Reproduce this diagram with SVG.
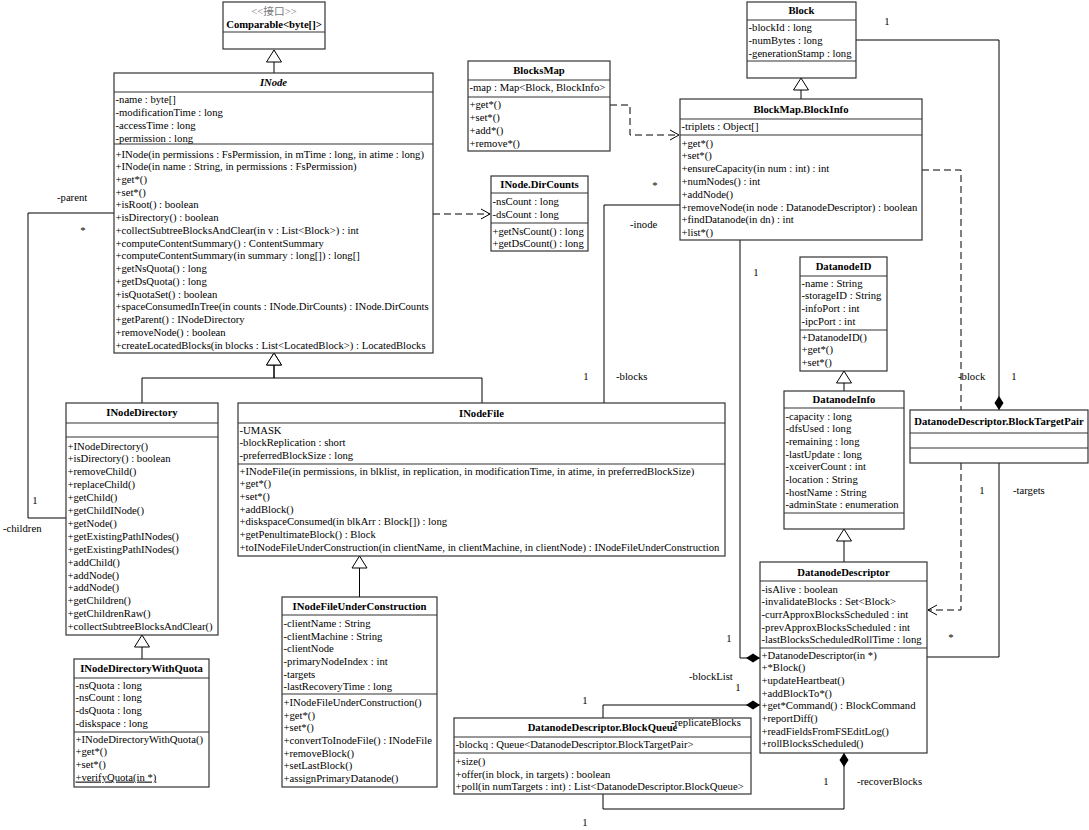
<svg xmlns="http://www.w3.org/2000/svg" width="1089" height="830" viewBox="0 0 1089 830">
<style>
.b{fill:#fff;stroke:#333;stroke-width:1.2}
.d{stroke:#333;stroke-width:1.2;fill:none}
text{font-family:"Liberation Serif","Times New Roman","Noto Sans CJK SC",serif;font-size:10.667px;fill:#000}
.h{font-weight:bold;text-anchor:middle}
.m{text-anchor:middle}
.c{fill:none;stroke:#000;stroke-width:1}
.ds{stroke-dasharray:7 4}
.st{fill:#777}
</style>
<defs>
<marker id="gen" markerUnits="userSpaceOnUse" markerWidth="14" markerHeight="17" refX="12" refY="8" orient="auto" overflow="visible"><path d="M12,8 L0,0.5 L0,15.5 Z" fill="#fff" stroke="#000" stroke-width="1"/></marker>
<marker id="arr" markerUnits="userSpaceOnUse" markerWidth="10" markerHeight="12" refX="9" refY="6" orient="auto" overflow="visible"><path d="M0,1 L9,6 L0,11" fill="none" stroke="#000" stroke-width="1"/></marker>
<marker id="dia" markerUnits="userSpaceOnUse" markerWidth="15" markerHeight="10" refX="0" refY="4.5" orient="auto" overflow="visible"><path d="M0,4.5 L7,0 L14,4.5 L7,9 Z" fill="#000"/></marker>
</defs>

<g id="connectors">
<path class="c" d="M274,73 V50" marker-end="url(#gen)"/>
<path class="c" d="M142,403 V378 H274 V353" marker-end="url(#gen)"/>
<path class="c" d="M482,403 V378 H274 V353" marker-end="url(#gen)"/>
<path class="c" d="M142,659 V635" marker-end="url(#gen)"/>
<path class="c" d="M359.5,597 V556" marker-end="url(#gen)"/>
<path class="c" d="M801,99 V78" marker-end="url(#gen)"/>
<path class="c" d="M844,391 V371" marker-end="url(#gen)"/>
<path class="c" d="M844,562 V529" marker-end="url(#gen)"/>
<path class="c ds" d="M433,214 H490" marker-end="url(#arr)"/>
<path class="c ds" d="M610,105 H630 V135 H679" marker-end="url(#arr)"/>
<path class="c" d="M114,213 H28 V518 H66"/>
<path class="c" d="M604,403 V205 H680"/>
<path class="c" d="M760,658 H740 V240" marker-start="url(#dia)"/>
<path class="c" d="M760,705 H603 V718" marker-start="url(#dia)"/>
<path class="c" d="M844,753 V809 H603 V794" marker-start="url(#dia)"/>
<path class="c" d="M999,410 V40 H856" marker-start="url(#dia)"/>
<path class="c" d="M999,463 V657 H927"/>
<path class="c ds" d="M922,170 H961 V410"/>
<path class="c ds" d="M961,463 V610 H928" marker-end="url(#arr)"/>
<text x="57" y="201">-parent</text>
<text x="83" y="234" class="m">*</text>
<text x="35" y="504" class="m">1</text>
<text x="3" y="531.5">-children</text>
<text x="655" y="189" class="m">*</text>
<text x="630" y="227.5">-inode</text>
<text x="586" y="379.5" class="m">1</text>
<text x="616" y="379.5">-blocks</text>
<text x="756" y="275.5" class="m">1</text>
<text x="729" y="641.5" class="m">1</text>
<text x="689" y="680">-blockList</text>
<text x="738" y="690.5" class="m">1</text>
<text x="585" y="703.5" class="m">1</text>
<text x="826" y="784.5" class="m">1</text>
<text x="857" y="784.5">-recoverBlocks</text>
<text x="585" y="825.5" class="m">1</text>
<text x="887" y="24.5" class="m">1</text>
<text x="1014" y="379.5" class="m">1</text>
<text x="958" y="379.5">-block</text>
<text x="982" y="493.5" class="m">1</text>
<text x="1013" y="493.5">-targets</text>
<text x="951" y="641" class="m">*</text>
</g>

<g id="Comparable">
<rect class="b" x="223" y="2" width="102" height="47"/>
<line class="d" x1="223" y1="32" x2="325" y2="32"/>
<text x="274" y="15" class="m st">&lt;&lt;接口&gt;&gt;</text>
<text x="274" y="28" class="h">Comparable&lt;byte[]&gt;</text>
</g>

<g id="INode">
<rect class="b" x="114" y="73" width="319" height="280"/>
<line class="d" x1="114" y1="92" x2="433" y2="92"/>
<line class="d" x1="114" y1="144" x2="433" y2="144"/>
<text x="273.5" y="86" class="h" font-style="italic">INode</text>
<text x="115.5" y="102.5">-name : byte[]</text>
<text x="115.5" y="115.5">-modificationTime : long</text>
<text x="115.5" y="128.5">-accessTime : long</text>
<text x="115.5" y="141.5">-permission : long</text>
<text x="115.5" y="157.5">+INode(in permissions : FsPermission, in mTime : long, in atime : long)</text>
<text x="115.5" y="170.2">+INode(in name : String, in permissions : FsPermission)</text>
<text x="115.5" y="183">+get*()</text>
<text x="115.5" y="195.7">+set*()</text>
<text x="115.5" y="208.4">+isRoot() : boolean</text>
<text x="115.5" y="221.2">+isDirectory() : boolean</text>
<text x="115.5" y="233.9">+collectSubtreeBlocksAndClear(in v : List&lt;Block&gt;) : int</text>
<text x="115.5" y="246.6">+computeContentSummary() : ContentSummary</text>
<text x="115.5" y="259.3">+computeContentSummary(in summary : long[]) : long[]</text>
<text x="115.5" y="272.1">+getNsQuota() : long</text>
<text x="115.5" y="284.8">+getDsQuota() : long</text>
<text x="115.5" y="297.5">+isQuotaSet() : boolean</text>
<text x="115.5" y="310.3">+spaceConsumedInTree(in counts : INode.DirCounts) : INode.DirCounts</text>
<text x="115.5" y="323">+getParent() : INodeDirectory</text>
<text x="115.5" y="335.7">+removeNode() : boolean</text>
<text x="115.5" y="348.5">+createLocatedBlocks(in blocks : List&lt;LocatedBlock&gt;) : LocatedBlocks</text>
</g>

<g id="DirCounts">
<rect class="b" x="491" y="176" width="97" height="75"/>
<line class="d" x1="491" y1="193" x2="588" y2="193"/>
<line class="d" x1="491" y1="223" x2="588" y2="223"/>
<text x="539.5" y="188" class="h">INode.DirCounts</text>
<text x="492.5" y="205">-nsCount : long</text>
<text x="492.5" y="218">-dsCount : long</text>
<text x="492.5" y="234.5">+getNsCount() : long</text>
<text x="492.5" y="246.5">+getDsCount() : long</text>
</g>

<g id="BlocksMap">
<rect class="b" x="468" y="61" width="142" height="90"/>
<line class="d" x1="468" y1="80" x2="610" y2="80"/>
<line class="d" x1="468" y1="97" x2="610" y2="97"/>
<text x="539" y="74" class="h">BlocksMap</text>
<text x="469.5" y="91">-map : Map&lt;Block, BlockInfo&gt;</text>
<text x="469.5" y="107.5">+get*()</text>
<text x="469.5" y="120.5">+set*()</text>
<text x="469.5" y="133.5">+add*()</text>
<text x="469.5" y="146.5">+remove*()</text>
</g>

<g id="Block">
<rect class="b" x="747" y="2" width="109" height="76"/>
<line class="d" x1="747" y1="20" x2="856" y2="20"/>
<line class="d" x1="747" y1="61" x2="856" y2="61"/>
<text x="801.5" y="14" class="h">Block</text>
<text x="748.5" y="30.5">-blockId : long</text>
<text x="748.5" y="43.5">-numBytes : long</text>
<text x="748.5" y="56.5">-generationStamp : long</text>
</g>

<g id="BlockInfo">
<rect class="b" x="680" y="99" width="242" height="141"/>
<line class="d" x1="680" y1="119" x2="922" y2="119"/>
<line class="d" x1="680" y1="135" x2="922" y2="135"/>
<text x="801" y="113" class="h">BlockMap.BlockInfo</text>
<text x="681.5" y="130">-triplets : Object[]</text>
<text x="681.5" y="146.5">+get*()</text>
<text x="681.5" y="159.3">+set*()</text>
<text x="681.5" y="172.1">+ensureCapacity(in num : int) : int</text>
<text x="681.5" y="184.9">+numNodes() : int</text>
<text x="681.5" y="197.7">+addNode()</text>
<text x="681.5" y="210.5">+removeNode(in node : DatanodeDescriptor) : boolean</text>
<text x="681.5" y="223.3">+findDatanode(in dn) : int</text>
<text x="681.5" y="236.1">+list*()</text>
</g>

<g id="DatanodeID">
<rect class="b" x="800" y="257" width="87" height="114"/>
<line class="d" x1="800" y1="276" x2="887" y2="276"/>
<line class="d" x1="800" y1="330" x2="887" y2="330"/>
<text x="843.5" y="270" class="h">DatanodeID</text>
<text x="801.5" y="286.5">-name : String</text>
<text x="801.5" y="299.2">-storageID : String</text>
<text x="801.5" y="311.9">-infoPort : int</text>
<text x="801.5" y="324.6">-ipcPort : int</text>
<text x="801.5" y="340.5">+DatanodeID()</text>
<text x="801.5" y="353.2">+get*()</text>
<text x="801.5" y="365.9">+set*()</text>
</g>

<g id="DatanodeInfo">
<rect class="b" x="784" y="391" width="120" height="138"/>
<line class="d" x1="784" y1="408" x2="904" y2="408"/>
<line class="d" x1="784" y1="513" x2="904" y2="513"/>
<text x="844" y="403" class="h">DatanodeInfo</text>
<text x="785.5" y="419.5">-capacity : long</text>
<text x="785.5" y="432.2">-dfsUsed : long</text>
<text x="785.5" y="444.9">-remaining : long</text>
<text x="785.5" y="457.6">-lastUpdate : long</text>
<text x="785.5" y="470.3">-xceiverCount : int</text>
<text x="785.5" y="483">-location : String</text>
<text x="785.5" y="495.7">-hostName : String</text>
<text x="785.5" y="508.4">-adminState : enumeration</text>
</g>

<g id="DatanodeDescriptor">
<rect class="b" x="760" y="562" width="167" height="191"/>
<line class="d" x1="760" y1="581" x2="927" y2="581"/>
<line class="d" x1="760" y1="648" x2="927" y2="648"/>
<text x="843.5" y="576" class="h">DatanodeDescriptor</text>
<text x="761.5" y="592.5">-isAlive : boolean</text>
<text x="761.5" y="605.2">-invalidateBlocks : Set&lt;Block&gt;</text>
<text x="761.5" y="617.9">-currApproxBlocksScheduled : int</text>
<text x="761.5" y="630.6">-prevApproxBlocksScheduled : int</text>
<text x="761.5" y="643.3">-lastBlocksScheduledRollTime : long</text>
<text x="761.5" y="658.5">+DatanodeDescriptor(in *)</text>
<text x="761.5" y="671.2">+*Block()</text>
<text x="761.5" y="683.9">+updateHeartbeat()</text>
<text x="761.5" y="696.6">+addBlockTo*()</text>
<text x="761.5" y="709.3">+get*Command() : BlockCommand</text>
<text x="761.5" y="722">+reportDiff()</text>
<text x="761.5" y="734.7">+readFieldsFromFSEditLog()</text>
<text x="761.5" y="747.4">+rollBlocksScheduled()</text>
</g>

<g id="BlockTargetPair">
<rect class="b" x="910" y="410" width="178" height="53"/>
<line class="d" x1="910" y1="433" x2="1088" y2="433"/>
<line class="d" x1="910" y1="448" x2="1088" y2="448"/>
<text x="999" y="425" class="h">DatanodeDescriptor.BlockTargetPair</text>
</g>

<g id="INodeDirectory">
<rect class="b" x="66" y="403" width="152" height="232"/>
<line class="d" x1="66" y1="423" x2="218" y2="423"/>
<line class="d" x1="66" y1="437" x2="218" y2="437"/>
<text x="142" y="416" class="h">INodeDirectory</text>
<text x="67.5" y="449.5">+INodeDirectory()</text>
<text x="67.5" y="462.4">+isDirectory() : boolean</text>
<text x="67.5" y="475.3">+removeChild()</text>
<text x="67.5" y="488.2">+replaceChild()</text>
<text x="67.5" y="501.1">+getChild()</text>
<text x="67.5" y="514">+getChildINode()</text>
<text x="67.5" y="526.9">+getNode()</text>
<text x="67.5" y="539.8">+getExistingPathINodes()</text>
<text x="67.5" y="552.7">+getExistingPathINodes()</text>
<text x="67.5" y="565.6">+addChild()</text>
<text x="67.5" y="578.5">+addNode()</text>
<text x="67.5" y="591.4">+addNode()</text>
<text x="67.5" y="604.3">+getChildren()</text>
<text x="67.5" y="617.2">+getChildrenRaw()</text>
<text x="67.5" y="630.1">+collectSubtreeBlocksAndClear()</text>
</g>

<g id="INodeDirectoryWithQuota">
<rect class="b" x="74" y="659" width="135" height="128"/>
<line class="d" x1="74" y1="678" x2="209" y2="678"/>
<line class="d" x1="74" y1="732" x2="209" y2="732"/>
<text x="141.5" y="672" class="h">INodeDirectoryWithQuota</text>
<text x="75.5" y="688.5">-nsQuota : long</text>
<text x="75.5" y="701.2">-nsCount : long</text>
<text x="75.5" y="713.9">-dsQuota : long</text>
<text x="75.5" y="726.6">-diskspace : long</text>
<text x="75.5" y="742.5">+INodeDirectoryWithQuota()</text>
<text x="75.5" y="755.2">+get*()</text>
<text x="75.5" y="767.9">+set*()</text>
<text x="75.5" y="780.6" text-decoration="underline">+verifyQuota(in *)</text>
</g>

<g id="INodeFile">
<rect class="b" x="238" y="403" width="487" height="153"/>
<line class="d" x1="238" y1="423" x2="725" y2="423"/>
<line class="d" x1="238" y1="464" x2="725" y2="464"/>
<text x="481.5" y="416.5" class="h">INodeFile</text>
<text x="239.5" y="433.5">-UMASK</text>
<text x="239.5" y="446.2">-blockReplication : short</text>
<text x="239.5" y="458.9">-preferredBlockSize : long</text>
<text x="239.5" y="474.5">+INodeFile(in permissions, in blklist, in replication, in modificationTime, in atime, in preferredBlockSize)</text>
<text x="239.5" y="487.2">+get*()</text>
<text x="239.5" y="499.9">+set*()</text>
<text x="239.5" y="512.6">+addBlock()</text>
<text x="239.5" y="525.3">+diskspaceConsumed(in blkArr : Block[]) : long</text>
<text x="239.5" y="538">+getPenultimateBlock() : Block</text>
<text x="239.5" y="550.7">+toINodeFileUnderConstruction(in clientName, in clientMachine, in clientNode) : INodeFileUnderConstruction</text>
</g>

<g id="INodeFileUnderConstruction">
<rect class="b" x="282" y="597" width="155" height="190"/>
<line class="d" x1="282" y1="615" x2="437" y2="615"/>
<line class="d" x1="282" y1="694" x2="437" y2="694"/>
<text x="359.5" y="610" class="h">INodeFileUnderConstruction</text>
<text x="283.5" y="626.9">-clientName : String</text>
<text x="283.5" y="639.6">-clientMachine : String</text>
<text x="283.5" y="652.3">-clientNode</text>
<text x="283.5" y="665">-primaryNodeIndex : int</text>
<text x="283.5" y="677.7">-targets</text>
<text x="283.5" y="690.4">-lastRecoveryTime : long</text>
<text x="283.5" y="705.9">+INodeFileUnderConstruction()</text>
<text x="283.5" y="718.6">+get*()</text>
<text x="283.5" y="731.3">+set*()</text>
<text x="283.5" y="744">+convertToInodeFile() : INodeFile</text>
<text x="283.5" y="756.7">+removeBlock()</text>
<text x="283.5" y="769.4">+setLastBlock()</text>
<text x="283.5" y="782.1">+assignPrimaryDatanode()</text>
</g>

<g id="BlockQueue">
<rect class="b" x="454" y="718" width="297" height="76"/>
<line class="d" x1="454" y1="737" x2="751" y2="737"/>
<line class="d" x1="454" y1="753" x2="751" y2="753"/>
<text x="602.5" y="731" class="h">DatanodeDescriptor.BlockQueue</text>
<text x="455.5" y="748">-blockq : Queue&lt;DatanodeDescriptor.BlockTargetPair&gt;</text>
<text x="455.5" y="764.9">+size()</text>
<text x="455.5" y="777.6">+offer(in block, in targets) : boolean</text>
<text x="455.5" y="790.3">+poll(in numTargets : int) : List&lt;DatanodeDescriptor.BlockQueue&gt;</text>
</g>
<text x="671" y="726">-replicateBlocks</text>
</svg>
